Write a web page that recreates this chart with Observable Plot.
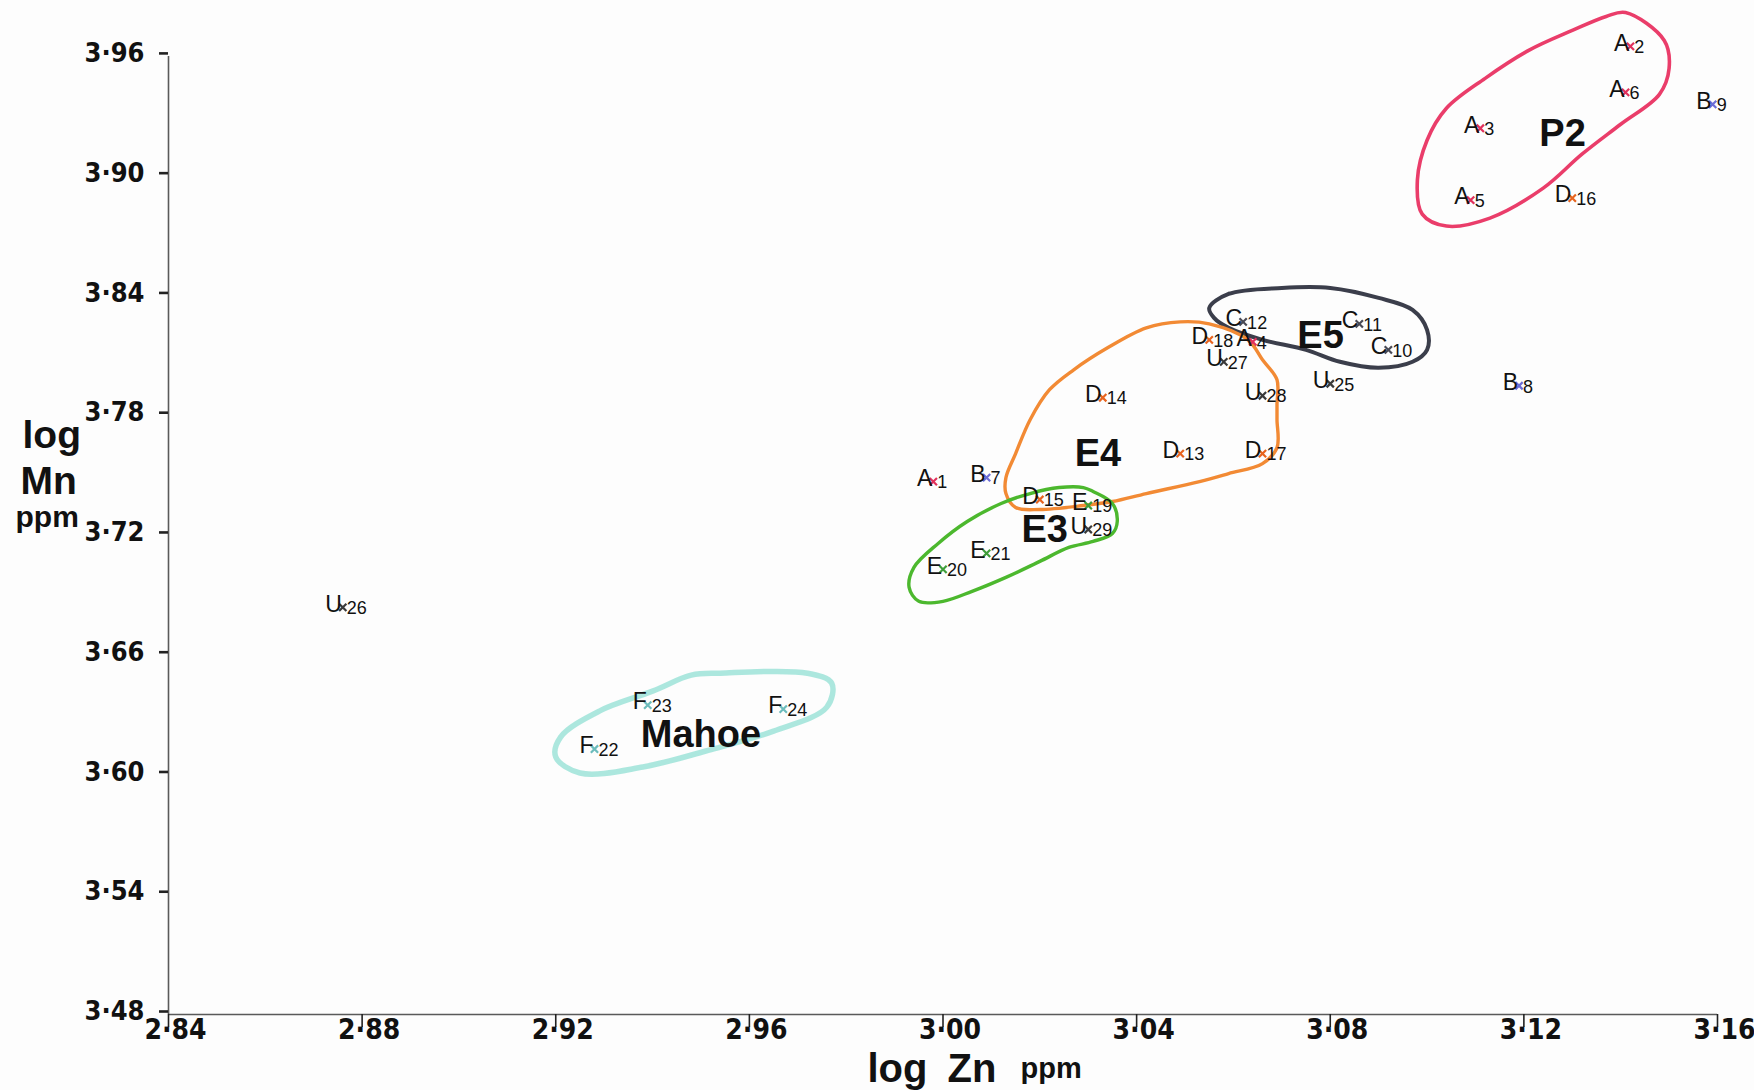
<!DOCTYPE html>
<html><head><meta charset="utf-8">
<script src="https://cdn.jsdelivr.net/npm/d3@7"></script>
<script src="https://cdn.jsdelivr.net/npm/@observablehq/plot@0.6"></script>
<style>
html,body{margin:0;padding:0;background:#fdfdfd;}
#chart{width:1754px;height:1090px;}
g[aria-label="y-axis tick label"], g.xticklabel { font-stretch: condensed; }
</style></head><body><div id="chart"></div>
<script>
// ---- Data ----
const sampleLetter = ["A","A","A","A","A","A","B","B","B","C","C","C","D","D","D","D","D","D","E","E","E","F","F","F","U","U","U","U","U"];
const sampleNumber = [1,2,3,4,5,6,7,8,9,10,11,12,13,14,15,16,17,18,19,20,21,22,23,24,25,26,27,28,29];
const logZn = [2.998,3.142,3.111,3.064,3.109,3.141,3.009,3.119,3.159,3.092,3.086,3.062,3.049,3.033,3.020,3.130,3.066,3.055,3.030,3.000,3.009,2.928,2.939,2.967,3.080,2.876,3.058,3.066,3.030];
const logMn = [3.747,3.965,3.924,3.817,3.888,3.942,3.749,3.795,3.936,3.813,3.826,3.827,3.761,3.789,3.738,3.889,3.761,3.818,3.735,3.703,3.711,3.613,3.635,3.633,3.796,3.684,3.807,3.790,3.723];

const xTicks = [2.84,2.88,2.92,2.96,3.00,3.04,3.08,3.12,3.16];
const xTickLabels = ["2·84","2·88","2·92","2·96","3·00","3·04","3·08","3·12","3·16"];
const yTicks = [3.48,3.54,3.60,3.66,3.72,3.78,3.84,3.90,3.96];
const yTickLabels = ["3·48","3·54","3·60","3·66","3·72","3·78","3·84","3·90","3·96"];

// hand-drawn group loops (outline vertices, log Zn / log Mn)
const groupNames = ["P2","E5","E4","E3","Mahoe"];
const p2Zn = [3.141,3.149,3.150,3.148,3.140,3.132,3.124,3.113,3.104,3.099,3.098,3.100,3.104,3.112,3.121,3.130,3.137];
const p2Mn = [3.982,3.968,3.954,3.941,3.926,3.911,3.894,3.879,3.875,3.881,3.898,3.918,3.934,3.949,3.963,3.973,3.980];
const e5Zn = [3.055,3.059,3.070,3.080,3.090,3.097,3.100,3.100,3.097,3.090,3.082,3.075,3.066,3.059,3.056];
const e5Mn = [3.834,3.841,3.844,3.844,3.839,3.833,3.823,3.813,3.807,3.804,3.807,3.813,3.818,3.824,3.829];
const e4Zn = [3.055,3.063,3.066,3.069,3.069,3.069,3.069,3.066,3.059,3.053,3.042,3.035,3.029,3.020,3.015,3.013,3.013,3.015,3.018,3.022,3.027,3.034,3.042,3.049];
const e4Mn = [3.826,3.818,3.808,3.798,3.786,3.778,3.764,3.756,3.751,3.747,3.741,3.737,3.735,3.733,3.734,3.741,3.749,3.761,3.778,3.793,3.803,3.814,3.824,3.827];
const e3Zn = [3.031,3.035,3.036,3.035,3.031,3.026,3.020,3.013,3.006,3.000,2.995,2.993,2.994,2.999,3.005,3.012,3.018,3.024,3.029];
const e3Mn = [3.742,3.736,3.727,3.721,3.717,3.714,3.707,3.699,3.692,3.687,3.687,3.694,3.704,3.716,3.727,3.736,3.741,3.744,3.744];
const mahoeZn = [2.954,2.972,2.977,2.976,2.965,2.951,2.938,2.925,2.920,2.921,2.929,2.940,2.948];
const mahoeMn = [3.651,3.651,3.646,3.634,3.622,3.612,3.604,3.601,3.609,3.619,3.632,3.642,3.650];
const groupLabelZn = [3.128,3.078,3.032,3.021,2.950];
const groupLabelMn = [3.921,3.820,3.761,3.723,3.620];

// ---- Styles ----
const markerColor = {A:"#e2315c",B:"#6c6cd6",C:"#4a4a55",D:"#e8641e",E:"#3f9e3a",F:"#6cbcbc",U:"#3a3a3a"};
const loopStyle = {
  P2:{stroke:"#ea3d6a",width:3.6,opacity:1},
  E5:{stroke:"#3b3e4b",width:4,opacity:1},
  E4:{stroke:"#f28a34",width:3.4,opacity:1},
  E3:{stroke:"#4cb82e",width:3.4,opacity:1},
  Mahoe:{stroke:"#a3e4da",width:5.5,opacity:0.9}
};
const labelFont = "'Liberation Sans', Arial, Helvetica, sans-serif";
const tickFont = "'DejaVu Sans', sans-serif";

// ---- Build tables ----
const points = sampleNumber.map((n,i)=>({letter:sampleLetter[i], num:n, zn:logZn[i], mn:logMn[i]}));
const loopVerts = [[p2Zn,p2Mn],[e5Zn,e5Mn],[e4Zn,e4Mn],[e3Zn,e3Mn],[mahoeZn,mahoeMn]];
const loops = groupNames.map((name,i)=>({name, zn:loopVerts[i][0], mn:loopVerts[i][1]}));
const groupLabels = groupNames.map((name,i)=>({name, zn:groupLabelZn[i], mn:groupLabelMn[i]}));

const marks = [];
// loops
for (const L of loops) {
  const s = loopStyle[L.name];
  marks.push(Plot.line(L.mn, {x: L.zn, y: L.mn, curve:"catmull-rom-closed", stroke:s.stroke, strokeWidth:s.width, strokeOpacity:s.opacity, strokeLinejoin:"round"}));
}
// axis lines
marks.push(Plot.ruleX([xTicks[0]], {y1: yTicks[0], y2: yTicks[yTicks.length-1], stroke:"#5a5a5a", strokeWidth:1.6}));
marks.push(Plot.ruleY([yTicks[0]], {x1: xTicks[0], x2: xTicks[xTicks.length-1], stroke:"#5a5a5a", strokeWidth:1.6}));
// axes
marks.push(Plot.axisY({ticks: yTicks, tickFormat: d => yTickLabels[yTicks.indexOf(d)], tickSize: 9, tickPadding: 15, strokeWidth: 2.6, stroke:"#222", fontSize: 27, fontWeight: "bold", fontFamily: tickFont, fill:"#111", dy: -3, label: null}));
marks.push(Plot.axisX({ticks: xTicks, tickFormat: () => "", tickSize: 13, strokeWidth: 1.6, stroke:"#222", label: null}));
marks.push(Plot.text(xTicks, {x: d => d, y: yTicks[0], text: d => xTickLabels[xTicks.indexOf(d)], className: "xticklabel", lineAnchor: "top", dx: 7, dy: 5, fontSize: 28, fontWeight: "bold", fontFamily: tickFont, fill: "#111"}));
// point markers and labels
marks.push(Plot.dot(points, {x:"zn", y:"mn", symbol:"times", r:3.4, strokeWidth:2.2, stroke: d => markerColor[d.letter]}));
marks.push(Plot.text(points, {x:"zn", y:"mn", text:"letter", textAnchor:"end", dx:-1, dy:-3, fontSize:23, fontFamily:labelFont, fill:"#111"}));
marks.push(Plot.text(points, {x:"zn", y:"mn", text: d => String(d.num), textAnchor:"start", dx:4, dy:1, fontSize:18, fontFamily:labelFont, fill:"#111"}));
// group labels
marks.push(Plot.text(groupLabels, {x:"zn", y:"mn", text:"name", fontSize:38, fontWeight:"bold", fontFamily:labelFont, fill:"#111"}));
// axis titles
const titleFont = labelFont;
marks.push(Plot.text(["log"], {frameAnchor:"top-left", text:d=>d, textAnchor:"start", lineAnchor:"bottom", dx:-146, dy:439, fontSize:39, fontWeight:"bold", fontFamily:titleFont, fill:"#111"}));
marks.push(Plot.text(["Mn"], {frameAnchor:"top-left", text:d=>d, textAnchor:"start", lineAnchor:"bottom", dx:-148, dy:485, fontSize:39, fontWeight:"bold", fontFamily:titleFont, fill:"#111"}));
marks.push(Plot.text(["ppm"], {frameAnchor:"top-left", text:d=>d, textAnchor:"start", lineAnchor:"bottom", dx:-153, dy:518, fontSize:30, fontWeight:"bold", fontFamily:titleFont, fill:"#111"}));
marks.push(Plot.text(["log\u2002Zn"], {frameAnchor:"bottom-left", text:d=>d, textAnchor:"start", lineAnchor:"bottom", dx:699, dy:67, fontSize:40, fontWeight:"bold", fontFamily:titleFont, fill:"#111"}));
marks.push(Plot.text(["ppm"], {frameAnchor:"bottom-left", text:d=>d, textAnchor:"start", lineAnchor:"bottom", dx:852, dy:63, fontSize:29, fontWeight:"bold", fontFamily:titleFont, fill:"#111"}));

const chart = Plot.plot({
  width: 1754, height: 1090,
  marginLeft: 168, marginRight: 37, marginTop: 8, marginBottom: 76,
  x: {domain: [2.84, 3.16]},
  y: {domain: [3.48, 3.984]},
  style: {background: "#fdfdfd", overflow: "visible"},
  marks
});
document.getElementById("chart").appendChild(chart);
</script></body></html>
